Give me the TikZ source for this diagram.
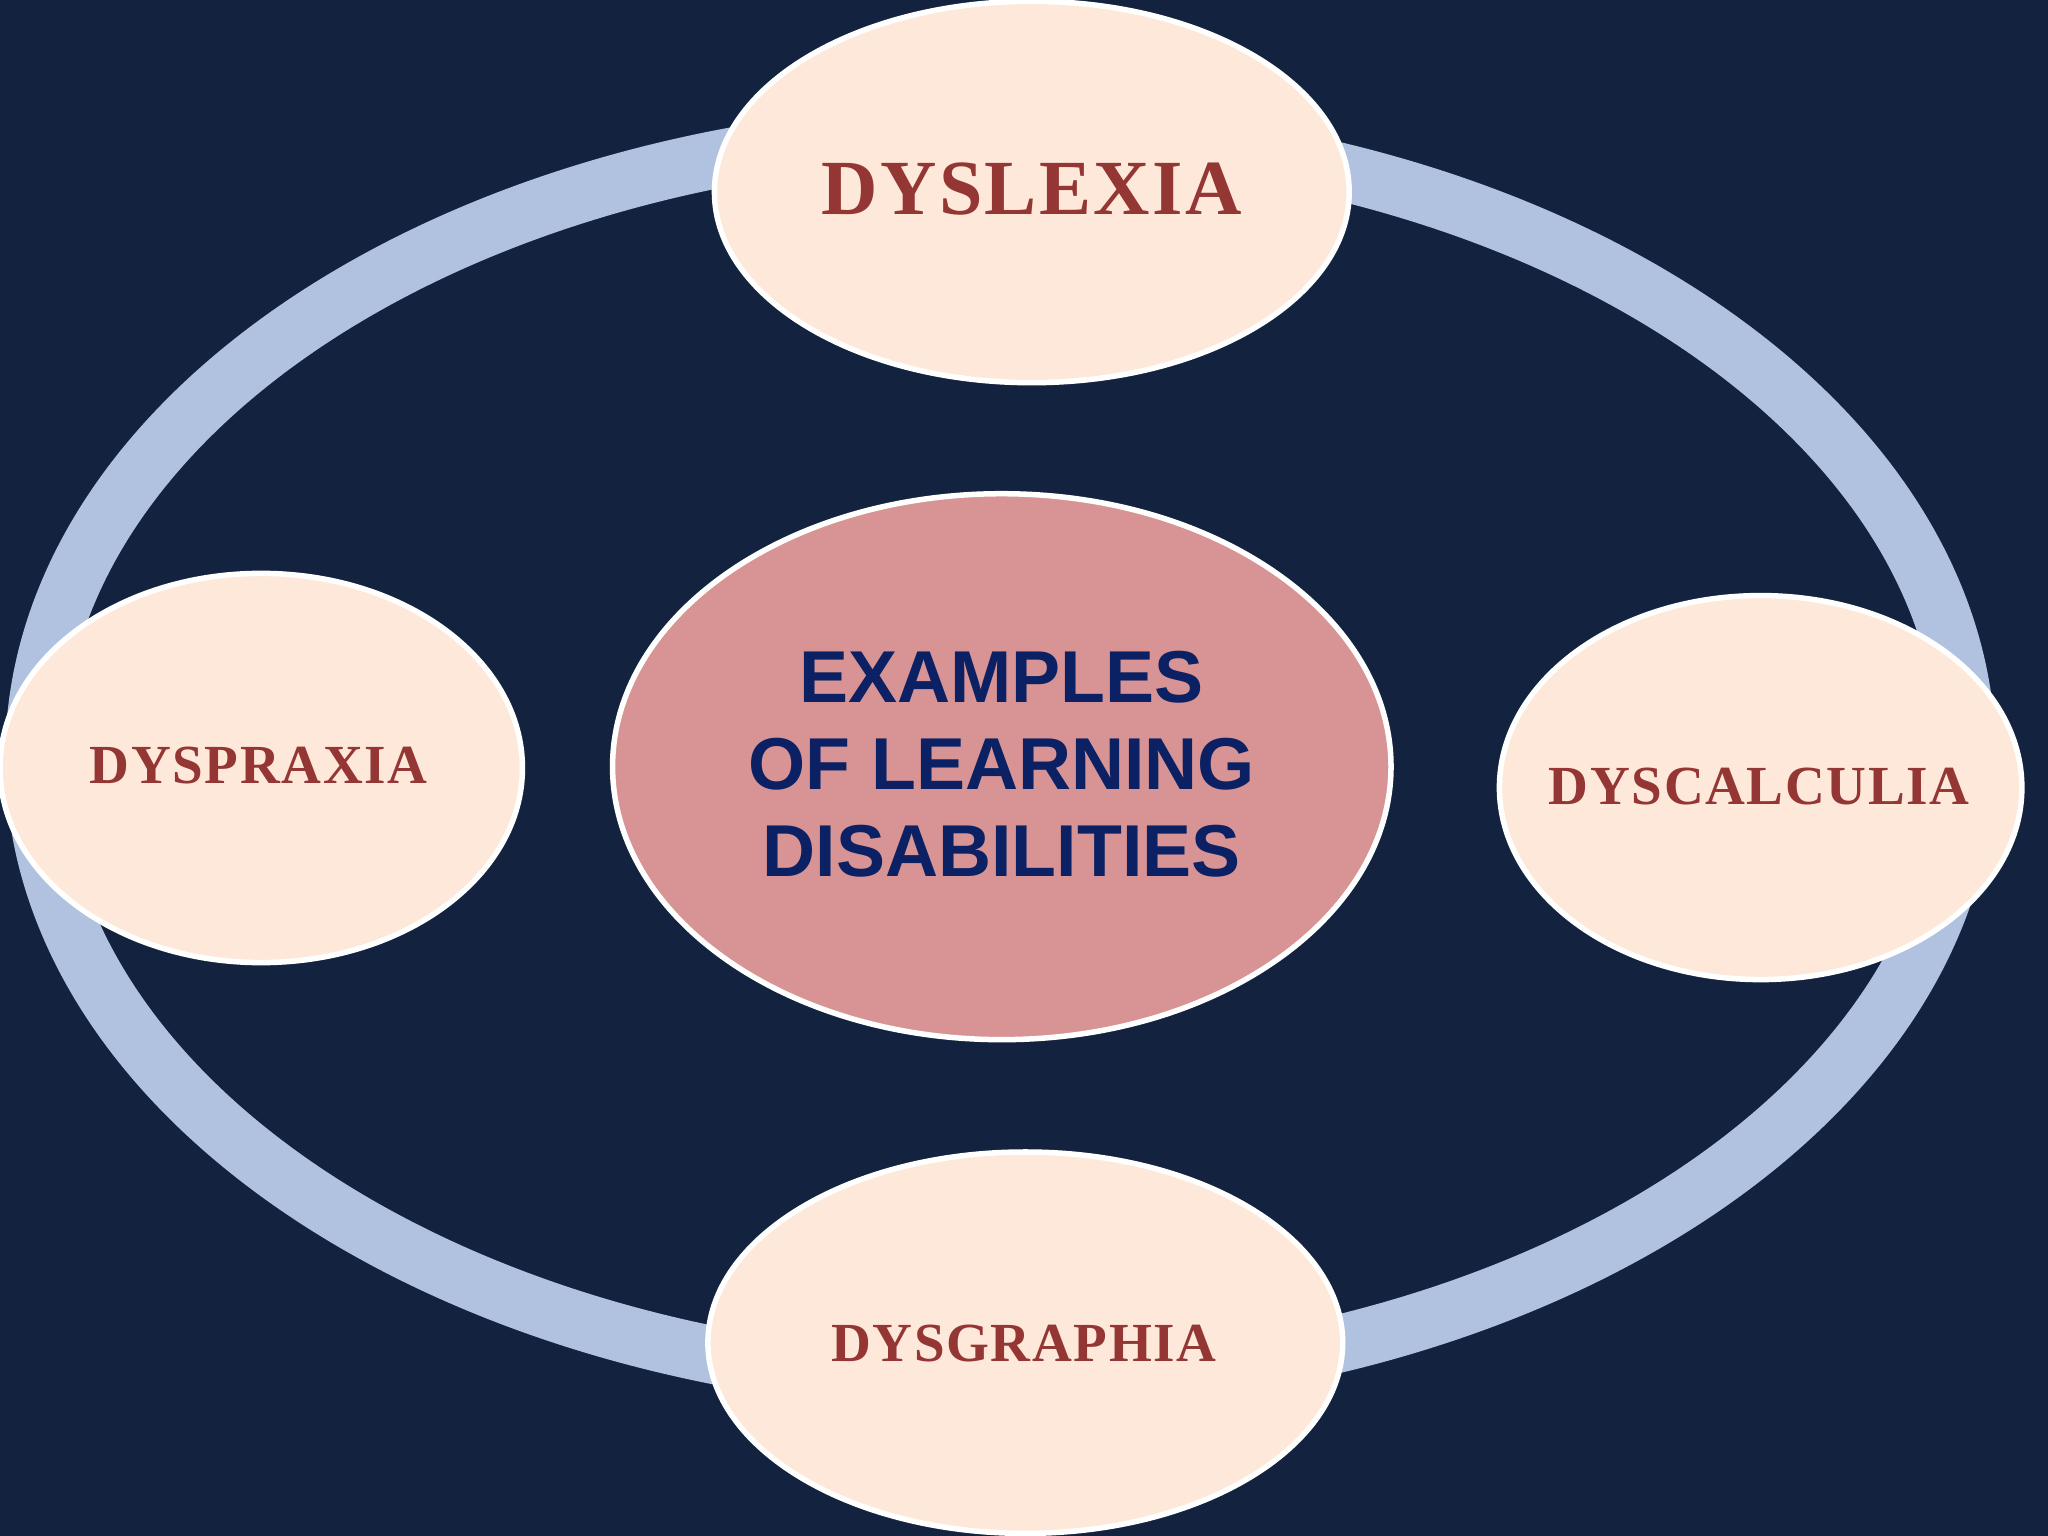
\documentclass[tikz,border=0pt]{standalone}
\usepackage{fontspec}
\setmainfont{Liberation Serif}
\newfontfamily\ctrfont{Liberation Sans}
\newfontfamily\sfont[LetterSpace=3]{Liberation Serif}
\definecolor{bg}{HTML}{13233F}
\definecolor{ring}{HTML}{B0C2DF}
\definecolor{peach}{HTML}{FDE8DA}
\definecolor{rose}{HTML}{D89494}
\definecolor{redtxt}{HTML}{943634}
\definecolor{navytxt}{HTML}{0B2164}
\begin{document}
\begin{tikzpicture}[x=0.01cm,y=-0.01cm,
  bubble/.style={draw=white,line width=1.2pt,fill=peach},
  lbl/.style={text=redtxt,font=\sfont\bfseries\fontsize{12}{14}\selectfont}]
\fill[bg] (0,0) rectangle (1568,1176);
\useasboundingbox (0,0) rectangle (1568,1176);
\draw[ring,line width=0.44cm] (766,580) ellipse [x radius=740,y radius=479];
\fill[bubble] (790,147) ellipse [x radius=243,y radius=146];
\fill[bubble] (200,588) ellipse [x radius=200,y radius=149];
\fill[bubble] (1348,603) ellipse [x radius=200,y radius=147];
\fill[bubble] (785,1028) ellipse [x radius=243,y radius=146];
\fill[bubble,fill=rose] (767,587) ellipse [x radius=298,y radius=209];
\node[lbl,font=\sfont\bfseries\fontsize{17}{20}\selectfont] (dyslexia) at (790,145) {DYSLEXIA};
\node[lbl] (dyspraxia) at (198,586) {DYSPRAXIA};
\node[lbl] (dyscalculia) at (1347,602) {DYSCALCULIA};
\node[lbl] (dysgraphia) at (784,1029) {DYSGRAPHIA};
\node[text=navytxt,align=center,font=\ctrfont\bfseries\fontsize{16}{19}\selectfont] (center) at (767,585)
 {EXAMPLES\\OF LEARNING\\DISABILITIES};
\end{tikzpicture}
\end{document}
